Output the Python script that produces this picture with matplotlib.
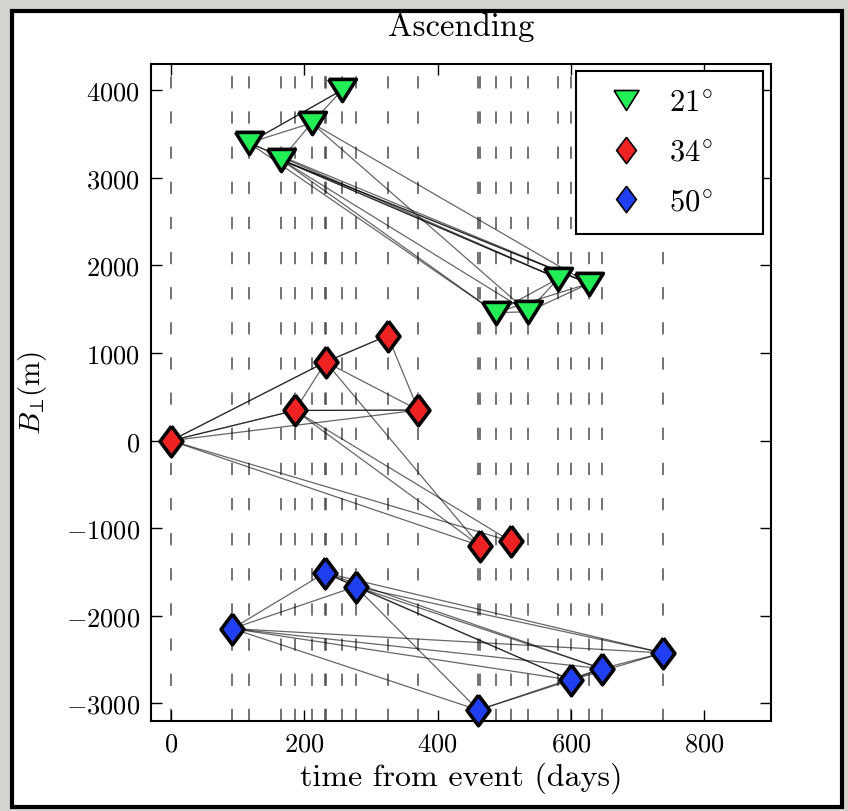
import matplotlib
matplotlib.use("Agg")
import matplotlib.pyplot as plt
from matplotlib.lines import Line2D
from matplotlib.patches import Rectangle

# Acquisition dates (days from event) and perpendicular baselines (m) per track
green_days = [117, 165, 211, 257, 487, 535, 581, 627]
green_bperp = [3400, 3208, 3626, 4005, 1462, 1471, 1851, 1794]

red_days = [0, 186, 232, 325, 371, 463, 510]
red_bperp = [0, 345, 899, 1200, 349, -1198, -1149]

blue_days = [92, 231, 277, 461, 600, 646, 738]
blue_bperp = [-2145, -1508, -1666, -3075, -2733, -2602, -2423]

# Interferometric pairs (indices into each track's acquisition list)
green_pairs = [(0, 2), (0, 3), (2, 3), (1, 2), (0, 3),
               (0, 6), (0, 7), (1, 6), (1, 7), (1, 6), (1, 7),
               (0, 4), (1, 4), (1, 5), (2, 5), (2, 7),
               (4, 5), (4, 6), (4, 7), (5, 6), (5, 7)]
red_pairs = [(0, 1), (0, 1), (0, 2), (0, 2), (0, 4), (1, 2), (1, 4), (1, 4),
             (2, 3), (2, 3), (2, 4), (3, 4), (2, 5), (1, 5), (1, 6),
             (0, 5), (0, 6)]
blue_pairs = [(0, 1), (0, 2), (1, 2), (0, 3), (0, 4), (0, 5), (0, 6),
              (1, 4), (1, 5), (1, 6), (2, 3), (2, 4), (2, 5), (2, 6),
              (3, 4), (3, 5), (4, 5), (4, 6), (5, 6)]

labels = [r"$21^{\!\circ}$", r"$34^{\!\circ}$", r"$50^{\!\circ}$"]
colors = ["#22ee55", "#ee2222", "#1f3ff0"]

plt.rcParams["font.family"] = "cmr10"
plt.rcParams["mathtext.fontset"] = "cm"
plt.rcParams["axes.formatter.use_mathtext"] = True

# marker outlines: squat downward triangle and tall diamond
tri_down = [(-1, 0.8), (1, 0.8), (0, -0.8), (-1, 0.8)]
diamond = [(0, 1), (0.75, 0), (0, -1), (-0.75, 0), (0, 1)]

W, H = 848, 812
fig = plt.figure(figsize=(W / 100, H / 100), dpi=100, facecolor="#d5d3ce")
fig.patches.append(Rectangle((12 / W, 4 / H), 830 / W, 796 / H,
                             transform=fig.transFigure, facecolor="white",
                             edgecolor="black", lw=3, zorder=-10))
ax = fig.add_axes([151 / W, 1 - 722 / H, 620 / W, 657 / H])

tracks = [
    (green_days, green_bperp, green_pairs, tri_down, 20),
    (red_days, red_bperp, red_pairs, diamond, 22),
    (blue_days, blue_bperp, blue_pairs, diamond, 22),
]

# vertical dashed line at every acquisition date
for days, _, _, _, _ in tracks:
    for d in days:
        ax.axvline(d, color="0.3", lw=1.1, ls=(0, (8, 15)), zorder=0)

for (days, bperp, pairs, mk, ms), col in zip(tracks, colors):
    for i, j in pairs:
        ax.plot([days[i], days[j]], [bperp[i], bperp[j]], color="black",
                lw=0.9, alpha=0.6, zorder=2)
    ax.plot(days, bperp, ls="none", marker=mk, ms=ms, mfc=col, mec="black",
            mew=2.6, zorder=3, clip_on=False)

ax.set_xlim(-30, 900)
ax.set_ylim(-3200, 4300)
ax.set_xticks([0, 200, 400, 600, 800])
ax.set_yticks(range(-3000, 4001, 1000))
ax.tick_params(direction="in", top=True, right=True, length=8, width=1,
               labelsize=19, pad=8)
for s in ax.spines.values():
    s.set_linewidth(1.5)

ax.set_title("Ascending", fontsize=23.5, pad=21)
ax.set_xlabel("time from event (days)", fontsize=23, labelpad=4)
ax.set_ylabel(r"$B_{\!\perp}\!$(m)", fontsize=21, labelpad=12)

handles = [
    Line2D([], [], ls="none", marker=tri_down, ms=18, mfc=colors[0],
           mec="black", mew=1.2),
    Line2D([], [], ls="none", marker=diamond, ms=19, mfc=colors[1],
           mec="black", mew=1.2),
    Line2D([], [], ls="none", marker=diamond, ms=19, mfc=colors[2],
           mec="black", mew=1.2),
]
leg = ax.legend(handles, labels, loc="upper left", fontsize=22,
                bbox_to_anchor=(0.685, 0.0, 0.302, 0.989), mode="expand",
                numpoints=1, fancybox=False, framealpha=1,
                edgecolor="black", borderaxespad=0, handlelength=2.1,
                labelspacing=0.72, borderpad=0.6, handletextpad=0.35)
leg.get_frame().set_linewidth(1.5)

fig.savefig("out.png", dpi=100, facecolor=fig.get_facecolor())
